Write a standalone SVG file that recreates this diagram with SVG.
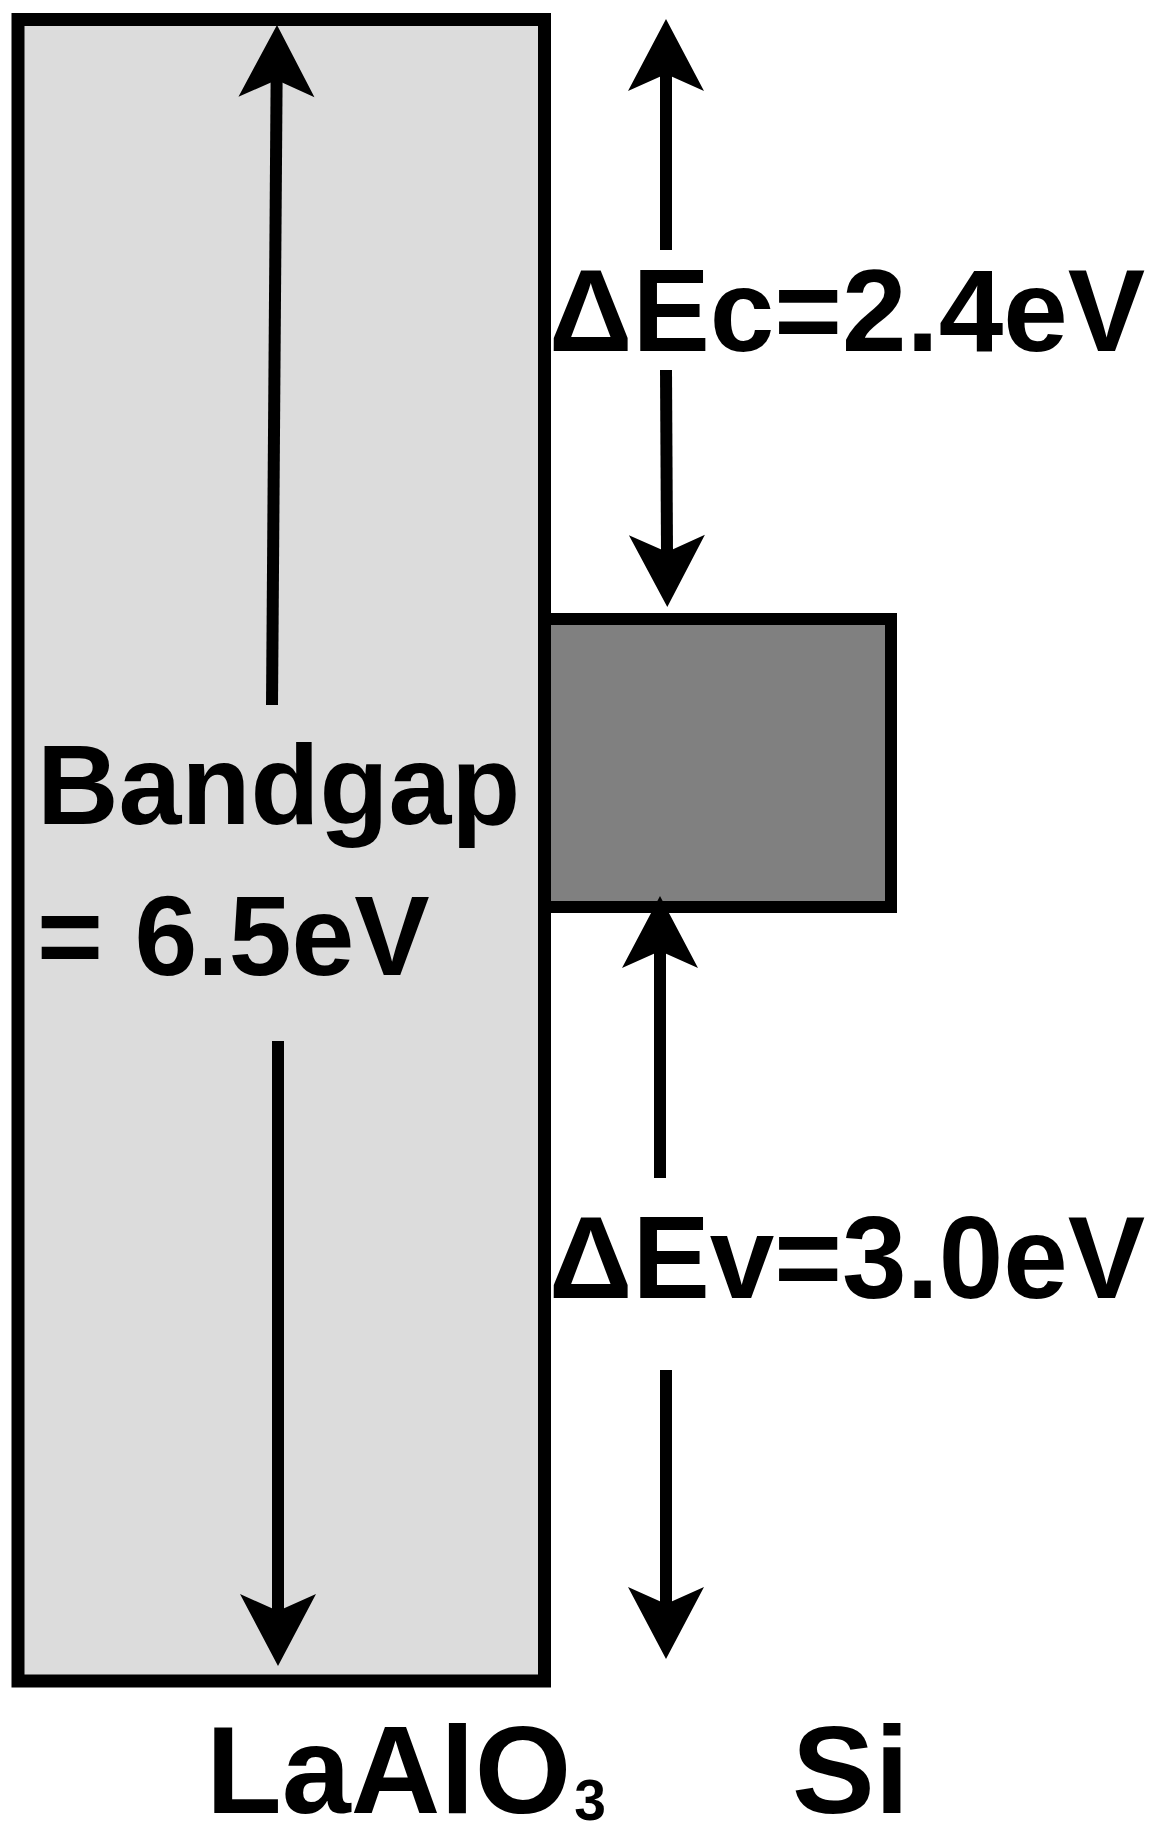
<svg xmlns="http://www.w3.org/2000/svg" width="1170" height="1842" viewBox="0 0 1170 1842">
  <style>
    .lbl { font-family: "Liberation Sans", Arial, sans-serif; font-weight: bold; fill: #000; }
    .shaft { stroke: #000; stroke-width: 12; fill: none; marker-end: url(#head); }
  </style>
  <defs>
    <marker id="head" markerUnits="userSpaceOnUse" viewBox="-74 -39 76 78" markerWidth="76" markerHeight="78" refX="-55" refY="0" orient="auto">
      <path d="M0,0 L-72,-38 L-55,0 L-72,38 Z" fill="#000"/>
    </marker>
  </defs>
  <rect width="1170" height="1842" fill="#fff"/>

  <g id="laalo3">
    <rect x="18" y="19.5" width="526.5" height="1661.5" fill="#dcdcdc" stroke="#000" stroke-width="13"/>
  </g>
  <g id="si">
    <rect x="545" y="619" width="346" height="288" fill="#808080" stroke="#000" stroke-width="12"/>
  </g>

  <g id="connectors">
    <line class="shaft" x1="272" y1="705" x2="276.6" y2="80"/>
    <line class="shaft" x1="278" y1="1041" x2="278" y2="1611"/>
    <line class="shaft" x1="666" y1="250" x2="666" y2="74"/>
    <line class="shaft" x1="666" y1="370" x2="667" y2="552"/>
    <line class="shaft" x1="660" y1="1178" x2="660" y2="951"/>
    <line class="shaft" x1="666" y1="1370" x2="666" y2="1604"/>
  </g>

  <g id="labels">
    <text class="lbl" x="37" y="824" font-size="113">Bandgap</text>
    <text class="lbl" x="37" y="975" font-size="113">= 6.5eV</text>
    <text class="lbl" x="549" y="351" font-size="116">ΔEc=2.4eV</text>
    <text class="lbl" x="549" y="1298" font-size="116">ΔEv=3.0eV</text>
    <text class="lbl" x="206" y="1813" font-size="124">LaAlO<tspan font-size="57" dx="3" dy="7">3</tspan></text>
    <text class="lbl" x="792" y="1813" font-size="124">Si</text>
  </g>
</svg>
